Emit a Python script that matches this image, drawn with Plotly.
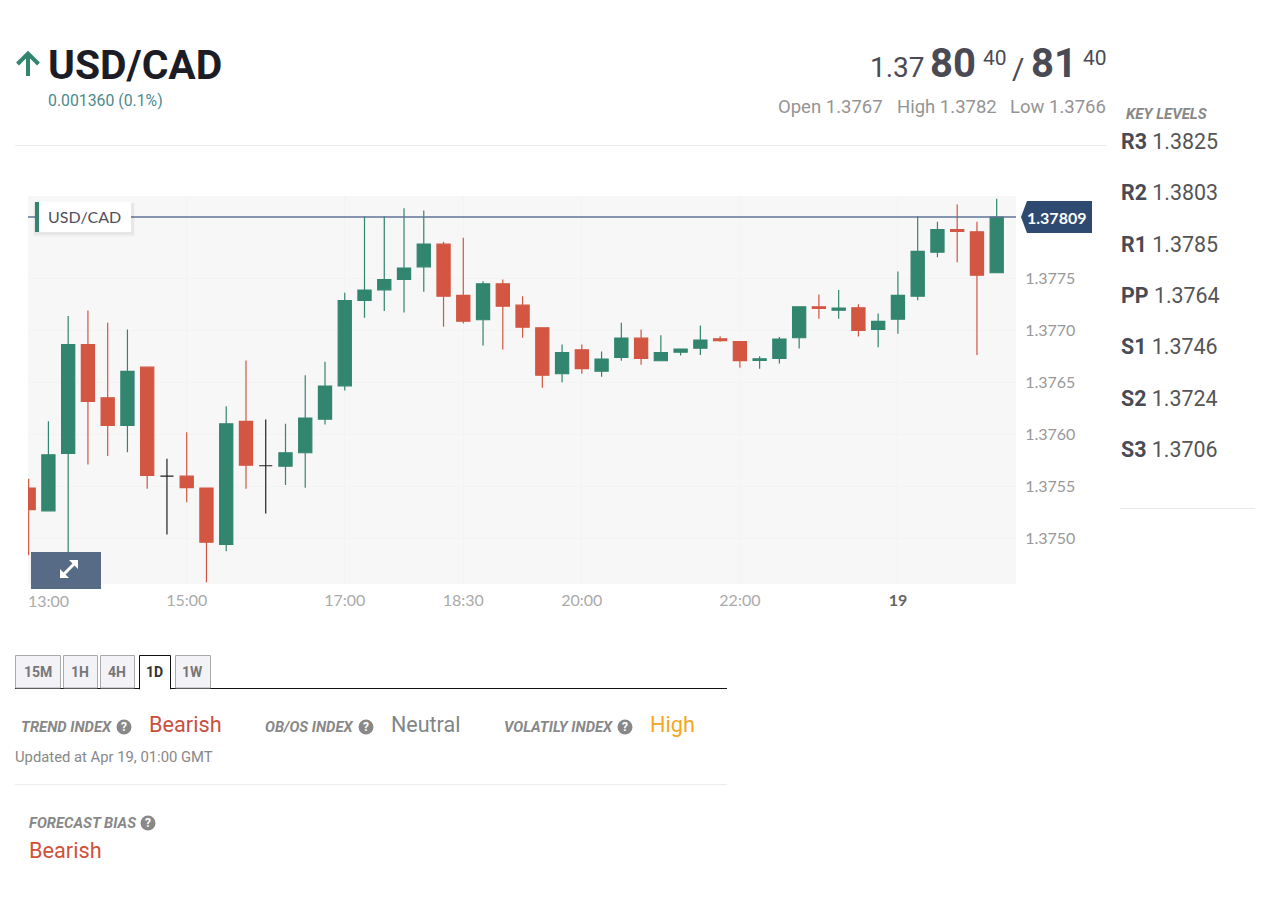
import pandas as pd
import plotly.graph_objects as go

# 15 minute candles, Apr 18 13:00 to Apr 19 01:15
times = pd.date_range('2021-04-18 13:00', periods=50, freq='15min')

opens = [1.375484, 1.375266, 1.375817, 1.376865, 1.376353, 1.376087, 1.376647, 1.375599, 1.375599, 1.375484,
         1.374942, 1.376125, 1.375699, 1.375695, 1.375824, 1.376147, 1.376468, 1.377288, 1.377391, 1.377490,
         1.377612, 1.377830, 1.377337, 1.377103, 1.377449, 1.377243, 1.377026, 1.376584, 1.376814, 1.376609,
         1.376740, 1.376926, 1.376709, 1.376791, 1.376830, 1.376920, 1.376894, 1.376712, 1.376731, 1.376930,
         1.377228, 1.377195, 1.377218, 1.377010, 1.377109, 1.377330, 1.377753, 1.377971, 1.377949, 1.377555]
highs = [1.375574, 1.376128, 1.377138, 1.377192, 1.377074, 1.377010, 1.376647, 1.375766, 1.376022, 1.375484,
         1.376272, 1.376712, 1.376144, 1.376103, 1.376570, 1.376699, 1.377363, 1.378099, 1.378099, 1.378176,
         1.378154, 1.377853, 1.377891, 1.377474, 1.377490, 1.377330, 1.377026, 1.376865, 1.376865, 1.376798,
         1.377074, 1.377010, 1.376955, 1.376820, 1.377048, 1.376945, 1.376894, 1.376753, 1.376936, 1.377228,
         1.377346, 1.377388, 1.377253, 1.377163, 1.377567, 1.378099, 1.378045, 1.378212, 1.378045, 1.378266]
lows = [1.374839, 1.375266, 1.374850, 1.375712, 1.375792, 1.375830, 1.375478, 1.375038, 1.375349, 1.374580,
        1.374878, 1.375478, 1.375240, 1.375513, 1.375488, 1.376096, 1.376423, 1.377122, 1.377186, 1.377173,
        1.377372, 1.377036, 1.377067, 1.376856, 1.376817, 1.376930, 1.376449, 1.376503, 1.376584, 1.376555,
        1.376709, 1.376670, 1.376709, 1.376760, 1.376763, 1.376891, 1.376641, 1.376632, 1.376683, 1.376827,
        1.377113, 1.377113, 1.376942, 1.376839, 1.376968, 1.377291, 1.377705, 1.377657, 1.376763, 1.377555]
closes = [1.375276, 1.375805, 1.376865, 1.376317, 1.376087, 1.376606, 1.375606, 1.375599, 1.375488, 1.374964,
          1.376103, 1.375705, 1.375699, 1.375824, 1.376157, 1.376464, 1.377288, 1.377388, 1.377490, 1.377599,
          1.377830, 1.377330, 1.377089, 1.377449, 1.377234, 1.377032, 1.376570, 1.376786, 1.376632, 1.376724,
          1.376926, 1.376731, 1.376786, 1.376820, 1.376907, 1.376901, 1.376709, 1.376728, 1.376916, 1.377228,
          1.377212, 1.377214, 1.377000, 1.377087, 1.377337, 1.377760, 1.377971, 1.377952, 1.377532, 1.378090]

last_price = 1.37809
ytick_vals = [1.3750, 1.3755, 1.3760, 1.3765, 1.3770, 1.3775]
ytick_text = ['1.3750', '1.3755', '1.3760', '1.3765', '1.3770', '1.3775']
xtick_vals = ['2021-04-18 15:00', '2021-04-18 17:00', '2021-04-18 18:30', '2021-04-18 20:00',
              '2021-04-18 22:00', '2021-04-19 00:00']
xtick_text = ['15:00', '17:00', '18:30', '20:00', '22:00', '<b style="color:#666">19</b>']
key_levels = [('R3', '1.3825'), ('R2', '1.3803'), ('R1', '1.3785'), ('PP', '1.3764'),
              ('S1', '1.3746'), ('S2', '1.3724'), ('S3', '1.3706')]
tabs = ['15M', '1H', '4H', '1D', '1W']

GREEN = '#32856f'
RED = '#d25642'
W, H = 1267, 913
L, R, T, B = 28, 1016, 196, 584


def px(x):
    return (x - L) / (R - L)


def py(y):
    return (B - y) / (B - T)


annotations = []
shapes = []


def label(x, y, text, size=14, color='#888', family='Roboto', anchor='left', **kw):
    annotations.append(dict(xref='paper', yref='paper', x=px(x), y=py(y), text=text, showarrow=False,
                            xanchor=anchor, yanchor='middle', borderpad=0,
                            font=dict(family=family, size=size, color=color), **kw))


def rect(x0, y0, x1, y1, fill, line=None, width=1):
    shapes.append(dict(type='rect', xref='paper', yref='paper', x0=px(x0), x1=px(x1), y0=py(y0), y1=py(y1),
                       fillcolor=fill, line=dict(color=line, width=width if line else 0), layer='above'))


def hline(x0, x1, y, color, width=1):
    shapes.append(dict(type='line', xref='paper', yref='paper', x0=px(x0), x1=px(x1), y0=py(y), y1=py(y),
                       line=dict(color=color, width=width), layer='above'))


def outline(points, color=None, width=0, fill=None):
    path = ' '.join(('M' if i == 0 else 'L') + f'{px(a)} {py(b)}' for i, (a, b) in enumerate(points))
    if fill:
        path += ' Z'
    shapes.append(dict(type='path', xref='paper', yref='paper', path=path, fillcolor=fill,
                       line=dict(color=color or fill, width=width), layer='above'))


def help_icon(x, y):
    shapes.append(dict(type='circle', xref='paper', yref='paper', x0=px(x - 7.5), x1=px(x + 7.5),
                       y0=py(y + 7.5), y1=py(y - 7.5), fillcolor='#888', line=dict(width=0), layer='above'))
    label(x, y, '<b>?</b>', size=12, color='white', anchor='center')


# candles, doji bars go in their own black trace
flat = [i for i in range(len(opens)) if opens[i] == closes[i]]
body = [i for i in range(len(opens)) if opens[i] != closes[i]]

fig = go.Figure()
fig.add_trace(go.Candlestick(x=[times[i] for i in body],
                             open=[opens[i] for i in body],
                             high=[highs[i] for i in body],
                             low=[lows[i] for i in body],
                             close=[closes[i] for i in body],
                             increasing=dict(line=dict(color=GREEN, width=1.2), fillcolor=GREEN),
                             decreasing=dict(line=dict(color=RED, width=1.2), fillcolor=RED),
                             whiskerwidth=0, showlegend=False))
fig.add_trace(go.Candlestick(x=[times[i] for i in flat],
                             open=[opens[i] for i in flat],
                             high=[highs[i] for i in flat],
                             low=[lows[i] for i in flat],
                             close=[closes[i] for i in flat],
                             increasing=dict(line=dict(color='#222', width=1.2), fillcolor='#222'),
                             decreasing=dict(line=dict(color='#222', width=1.2), fillcolor='#222'),
                             whiskerwidth=0, showlegend=False))

# last price line and tag
shapes.append(dict(type='line', xref='paper', yref='y', x0=0, x1=px(1016), y0=last_price, y1=last_price,
                   line=dict(color='#5f7596', width=1.5), layer='above'))
outline([(1021, 217), (1027, 201), (1092, 201), (1092, 233), (1027, 233)], fill='#2e4a71')
label(1056, 217, '<b>1.37809</b>', size=16, color='white', family='Lato', anchor='center')

# series label on the chart
rect(33, 203, 135, 237, 'rgba(0,0,0,0.025)')
rect(34, 203, 134, 235, 'rgba(0,0,0,0.04)')
rect(35, 202, 131, 232, 'white')
rect(35, 202, 39, 232, GREEN)
label(47, 216, 'USD/CAD', size=16, color='#4f4f5a', family='Lato')

# expand button
rect(31, 552, 101, 589, '#576b87')
outline([(63, 575), (75, 563)], color='white', width=3)
outline([(60, 578), (60, 569), (69, 578)], fill='white')
outline([(78, 560), (78, 569), (69, 560)], fill='white')
label(27, 600, '13:00', size=16, color='#aaa', family='Lato')

# header
outline([(28, 76), (28, 54)], color=GREEN, width=4)
outline([(17.5, 64), (28, 53.5), (38.5, 64)], color=GREEN, width=4)
label(47, 65, '<b>USD/CAD</b>', size=40.8, color='#1c1c26')
label(47, 100, '0.001360 (0.1%)', size=15.8, color='#4b8a8e')
label(869, 67, '1.37', size=28, color='#4a4a55')
label(929, 63, '<b>80</b>', size=40, color='#4a4a55')
label(982, 58, '40', size=21, color='#4a4a55')
label(1011, 68, '/', size=30, color='#4a4a55')
label(1029.5, 63, '<b>81</b>', size=40, color='#4a4a55')
label(1082, 58, '40', size=21, color='#4a4a55')
label(777, 107, 'Open 1.3767', size=18.5, color='#949494')
label(896, 107, 'High 1.3782', size=18.5, color='#949494')
label(1009, 107, 'Low 1.3766', size=18.5, color='#949494')
hline(15, 1106, 145.5, '#eaeaea')

# key levels
label(1124.5, 114, '<b><i>KEY LEVELS</i></b>', size=15, color='#888')
for (name, level), y in zip(key_levels, [141, 192, 244, 295, 346, 398, 449]):
    label(1120, y, f'<b style="color:#4a4a55">{name}</b> {level}', size=21.4, color='#555')
hline(1120, 1255, 508.5, '#e8e8e8')

# timeframe tabs
tab_edges = [(15, 61), (63, 98), (100, 135), (139, 171), (175, 211)]
hline(15, 727, 688.5, '#111', 1)
for name, (x0, x1) in zip(tabs, tab_edges):
    if name == '1D':
        rect(x0 + 0.5, 655.5, x1 - 0.5, 689, 'white', '#111', 1)
        hline(x0 + 1, x1 - 1, 689, 'white', 2)
    else:
        rect(x0 + 0.5, 655.5, x1 - 0.5, 688, '#f2f2f7', '#aaa', 1)
    label((x0 + x1) / 2 - 0.5, 672, f'<b>{name}</b>', size=14, color='#333' if name == '1D' else '#777',
          anchor='center')

# index row
label(20, 727, '<b><i>TREND INDEX</i></b>', size=14.8)
help_icon(124, 727)
label(148, 724.5, 'Bearish', size=21.7, color='#c9503f')
label(264, 727, '<b><i>OB/OS INDEX</i></b>', size=14.8)
help_icon(366, 727)
label(390, 724.5, 'Neutral', size=21.5, color='#7f8689')
label(503, 727, '<b><i>VOLATILY INDEX</i></b>', size=14.8)
help_icon(625, 727)
label(649, 724.5, 'High', size=21.7, color='#f5a623')
label(14, 757, 'Updated at Apr 19, 01:00 GMT', size=14.8)
hline(15, 727, 784.5, '#ececec')
label(28, 823, '<b><i>FORECAST BIAS</i></b>', size=14.8)
help_icon(148, 823)
label(28, 850.5, 'Bearish', size=21.7, color='#cf5238')

fig.update_layout(width=W, height=H, autosize=False,
                  margin=dict(l=L, r=W - R, t=T, b=H - B, pad=0),
                  paper_bgcolor='white', plot_bgcolor='#f7f7f7',
                  showlegend=False, boxgap=0.1, boxgroupgap=0.26,
                  shapes=shapes, annotations=annotations)
fig.update_xaxes(type='date', range=['2021-04-18 12:59:30', '2021-04-19 01:29:39'],
                 rangeslider=dict(visible=False), tickvals=xtick_vals, ticktext=xtick_text,
                 tickfont=dict(family='Lato', size=16, color='#aaa'),
                 ticks='outside', ticklen=2, tickcolor='rgba(0,0,0,0)',
                 showgrid=True, gridcolor='#f3f3f3', zeroline=False, showline=False)
fig.update_yaxes(range=[1.374562, 1.378293], side='right', tickvals=ytick_vals, ticktext=ytick_text,
                 tickfont=dict(family='Lato', size=16, color='#999'),
                 ticks='outside', ticklen=5, tickcolor='rgba(0,0,0,0)',
                 showgrid=True, gridcolor='#f3f3f3', zeroline=False, showline=False)

fig.write_html("out.html", config=dict(displayModeBar=False),
               post_script="document.body.style.margin='0';document.body.style.overflow='hidden';")
